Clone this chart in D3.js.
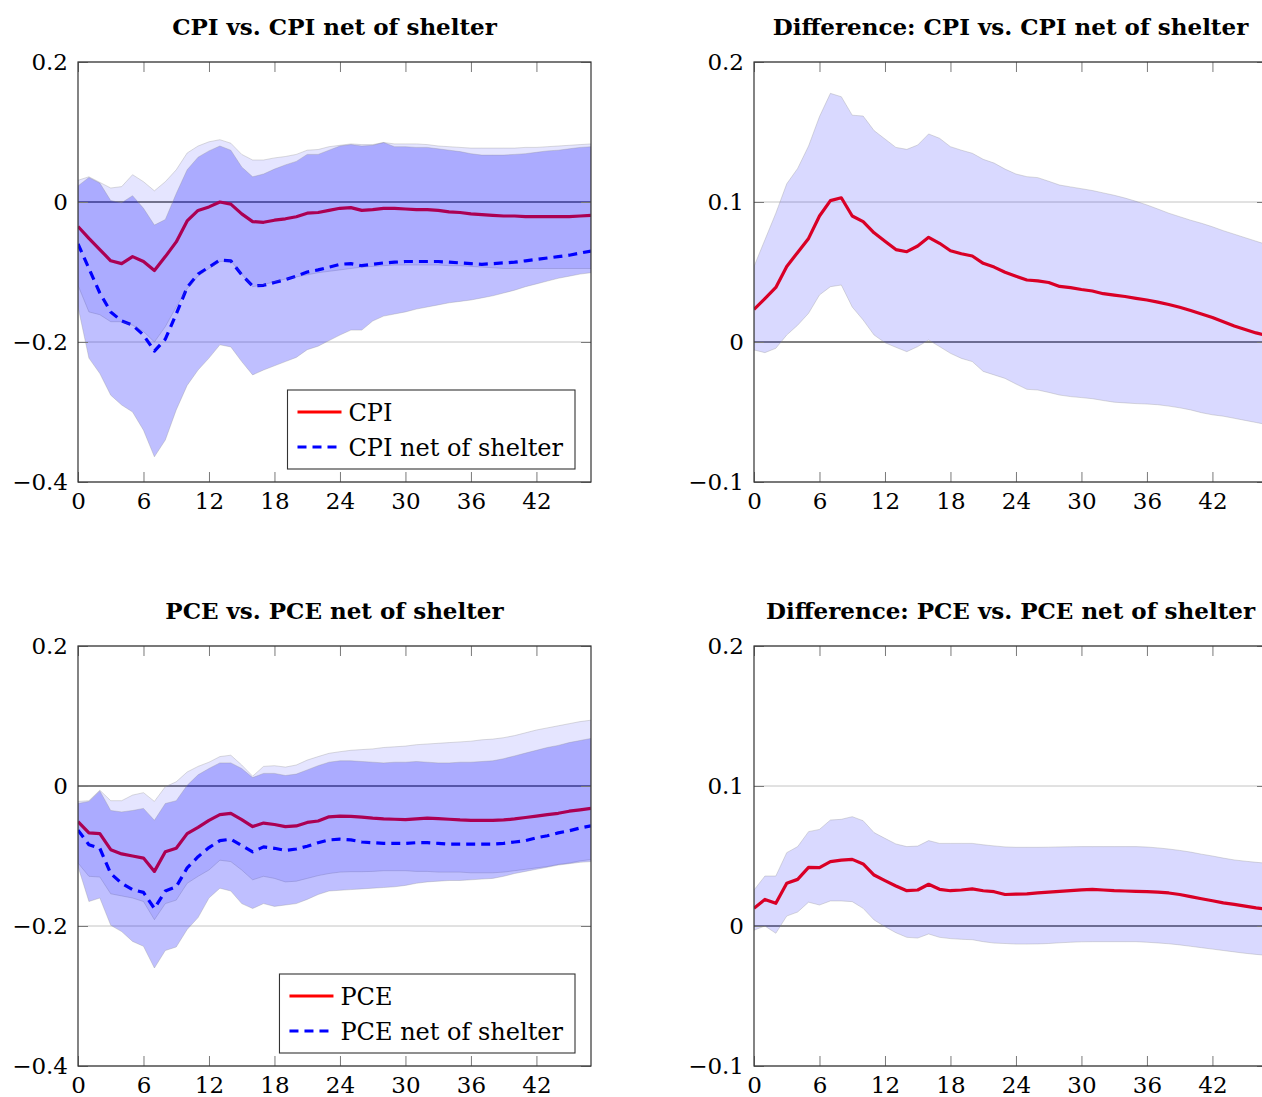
<!DOCTYPE html>
<html>
<head>
<meta charset="utf-8">
<script src="https://cdn.jsdelivr.net/npm/d3@7/dist/d3.min.js"></script>
<style>
  html, body { margin: 0; padding: 0; background: #fff; }
  svg { display: block; }
  text { font-family: "DejaVu Serif", "Liberation Serif", serif; fill: #000; }
</style>
</head>
<body>
<svg id="chart" width="1262" height="1097"></svg>
<script>
// Horizon (months after the shock)
const horizon = d3.range(0, 48);
const xTicks = [0, 6, 12, 18, 24, 30, 36, 42];

// ---- CPI vs. CPI net of shelter ----
const cpi = [-0.035,-0.052,-0.068,-0.084,-0.088,-0.078,-0.085,-0.098,-0.078,-0.057,-0.027,-0.012,-0.007,0.000,-0.003,-0.017,-0.028,-0.029,-0.026,-0.024,-0.021,-0.016,-0.015,-0.012,-0.009,-0.008,-0.012,-0.011,-0.009,-0.009,-0.010,-0.011,-0.011,-0.012,-0.014,-0.015,-0.017,-0.018,-0.019,-0.020,-0.020,-0.021,-0.021,-0.021,-0.021,-0.021,-0.020,-0.019];
const cpiLo = [-0.119,-0.157,-0.161,-0.171,-0.171,-0.176,-0.185,-0.200,-0.178,-0.150,-0.124,-0.106,-0.095,-0.085,-0.084,-0.103,-0.121,-0.118,-0.114,-0.110,-0.107,-0.104,-0.101,-0.099,-0.097,-0.095,-0.093,-0.092,-0.091,-0.090,-0.090,-0.090,-0.090,-0.090,-0.091,-0.091,-0.092,-0.093,-0.094,-0.095,-0.095,-0.095,-0.095,-0.095,-0.095,-0.095,-0.095,-0.095];
const cpiHi = [0.031,0.036,0.028,0.020,0.022,0.039,0.029,0.016,0.029,0.046,0.070,0.080,0.086,0.089,0.084,0.068,0.060,0.060,0.063,0.065,0.068,0.074,0.075,0.079,0.081,0.083,0.082,0.082,0.085,0.083,0.083,0.083,0.082,0.080,0.079,0.078,0.077,0.077,0.077,0.077,0.077,0.078,0.078,0.079,0.080,0.081,0.082,0.083];
const cpiExShelter = [-0.060,-0.095,-0.130,-0.157,-0.170,-0.176,-0.190,-0.213,-0.196,-0.160,-0.122,-0.103,-0.093,-0.083,-0.084,-0.104,-0.120,-0.119,-0.115,-0.111,-0.106,-0.100,-0.097,-0.093,-0.089,-0.088,-0.091,-0.089,-0.087,-0.086,-0.085,-0.085,-0.085,-0.085,-0.086,-0.087,-0.088,-0.089,-0.088,-0.087,-0.086,-0.084,-0.082,-0.080,-0.078,-0.076,-0.073,-0.070];
const cpiExShelterLo = [-0.150,-0.223,-0.245,-0.276,-0.290,-0.300,-0.326,-0.364,-0.340,-0.297,-0.262,-0.240,-0.223,-0.204,-0.207,-0.228,-0.247,-0.240,-0.234,-0.228,-0.222,-0.211,-0.206,-0.198,-0.190,-0.183,-0.183,-0.170,-0.163,-0.160,-0.157,-0.153,-0.150,-0.147,-0.144,-0.142,-0.140,-0.137,-0.134,-0.130,-0.126,-0.121,-0.117,-0.113,-0.109,-0.106,-0.103,-0.101];
const cpiExShelterHi = [0.023,0.035,0.027,0.002,-0.001,0.009,-0.009,-0.033,-0.025,0.012,0.046,0.064,0.073,0.080,0.074,0.050,0.036,0.040,0.047,0.053,0.058,0.068,0.068,0.074,0.080,0.082,0.080,0.081,0.085,0.079,0.079,0.078,0.078,0.076,0.074,0.072,0.069,0.067,0.067,0.067,0.068,0.069,0.071,0.073,0.074,0.076,0.078,0.079];

// ---- Difference: CPI vs. CPI net of shelter ----
const cpiDiff = [0.0233,0.031,0.039,0.054,0.064,0.074,0.090,0.101,0.103,0.090,0.086,0.078,0.072,0.066,0.0645,0.0686,0.0748,0.0705,0.0652,0.063,0.0614,0.0562,0.0535,0.0498,0.047,0.0443,0.0437,0.0425,0.0397,0.0388,0.0375,0.0364,0.0345,0.0335,0.0325,0.0312,0.0300,0.0285,0.0268,0.0248,0.0225,0.0200,0.0175,0.0145,0.0115,0.0090,0.0065,0.0045];
const cpiDiffLo = [-0.0057,-0.0076,-0.0045,0.005,0.012,0.0205,0.0336,0.0395,0.0407,0.025,0.0157,0.005,-0.0005,-0.0038,-0.0069,-0.0033,0.0014,-0.0033,-0.0081,-0.0117,-0.014,-0.021,-0.0235,-0.026,-0.030,-0.0338,-0.0343,-0.036,-0.0379,-0.039,-0.0397,-0.0405,-0.0418,-0.043,-0.0435,-0.044,-0.0443,-0.0448,-0.0458,-0.047,-0.0485,-0.0505,-0.052,-0.053,-0.0545,-0.056,-0.0575,-0.059];
const cpiDiffHi = [0.054,0.073,0.092,0.113,0.124,0.140,0.161,0.1776,0.1752,0.162,0.1614,0.151,0.145,0.139,0.1376,0.1407,0.1486,0.1455,0.1395,0.137,0.1348,0.1305,0.1278,0.1235,0.120,0.1181,0.1174,0.1148,0.1121,0.1108,0.1095,0.1082,0.1065,0.1048,0.1028,0.1005,0.0979,0.095,0.092,0.0895,0.087,0.0848,0.0823,0.0795,0.077,0.0745,0.072,0.0695];

// ---- PCE vs. PCE net of shelter ----
const pce = [-0.051,-0.067,-0.068,-0.091,-0.097,-0.100,-0.103,-0.122,-0.094,-0.089,-0.068,-0.059,-0.049,-0.041,-0.039,-0.048,-0.058,-0.053,-0.055,-0.058,-0.057,-0.052,-0.050,-0.044,-0.043,-0.0435,-0.0445,-0.046,-0.047,-0.0475,-0.048,-0.047,-0.046,-0.0465,-0.0475,-0.0485,-0.049,-0.049,-0.049,-0.0485,-0.047,-0.045,-0.043,-0.041,-0.039,-0.036,-0.034,-0.032];
const pceLo = [-0.110,-0.129,-0.130,-0.154,-0.157,-0.160,-0.165,-0.191,-0.168,-0.163,-0.139,-0.129,-0.120,-0.106,-0.108,-0.120,-0.134,-0.129,-0.132,-0.137,-0.136,-0.132,-0.128,-0.125,-0.123,-0.1224,-0.1224,-0.122,-0.121,-0.121,-0.121,-0.122,-0.122,-0.123,-0.123,-0.123,-0.124,-0.124,-0.124,-0.123,-0.121,-0.119,-0.117,-0.115,-0.112,-0.110,-0.107,-0.105];
const pceHi = [-0.022,-0.021,-0.006,-0.021,-0.021,-0.013,-0.0095,-0.022,-0.001,0.006,0.020,0.028,0.034,0.042,0.044,0.030,0.014,0.028,0.029,0.027,0.030,0.037,0.042,0.0467,0.049,0.051,0.052,0.053,0.055,0.056,0.057,0.059,0.060,0.061,0.062,0.063,0.064,0.066,0.067,0.069,0.072,0.076,0.080,0.083,0.086,0.089,0.092,0.094];
const pceExShelter = [-0.063,-0.084,-0.089,-0.125,-0.139,-0.148,-0.152,-0.175,-0.150,-0.144,-0.117,-0.101,-0.088,-0.078,-0.076,-0.085,-0.094,-0.087,-0.089,-0.092,-0.090,-0.086,-0.081,-0.077,-0.076,-0.077,-0.080,-0.081,-0.082,-0.082,-0.082,-0.081,-0.081,-0.082,-0.083,-0.083,-0.083,-0.083,-0.083,-0.082,-0.080,-0.078,-0.074,-0.071,-0.067,-0.064,-0.060,-0.057];
const pceExShelterLo = [-0.115,-0.165,-0.160,-0.199,-0.208,-0.222,-0.229,-0.260,-0.235,-0.230,-0.205,-0.188,-0.160,-0.146,-0.150,-0.168,-0.175,-0.168,-0.172,-0.170,-0.168,-0.162,-0.155,-0.150,-0.149,-0.148,-0.147,-0.146,-0.145,-0.144,-0.142,-0.139,-0.137,-0.136,-0.135,-0.135,-0.134,-0.133,-0.132,-0.129,-0.125,-0.122,-0.119,-0.116,-0.113,-0.111,-0.109,-0.108];
const pceExShelterHi = [-0.025,-0.022,-0.007,-0.035,-0.037,-0.035,-0.032,-0.049,-0.025,-0.021,0.001,0.016,0.025,0.033,0.033,0.025,0.012,0.018,0.018,0.015,0.017,0.023,0.029,0.034,0.036,0.036,0.035,0.034,0.033,0.034,0.034,0.035,0.034,0.033,0.033,0.034,0.034,0.035,0.036,0.039,0.043,0.047,0.051,0.055,0.058,0.062,0.065,0.068];

// ---- Difference: PCE vs. PCE net of shelter ----
const pceDiff = [0.0126,0.019,0.0162,0.0305,0.0333,0.0419,0.0417,0.046,0.0471,0.0476,0.0443,0.0364,0.0324,0.0286,0.0252,0.0257,0.0298,0.0262,0.0252,0.0257,0.0265,0.0252,0.0245,0.0225,0.0227,0.0230,0.0236,0.0242,0.0248,0.0253,0.0258,0.0262,0.0257,0.0252,0.025,0.0248,0.0245,0.0242,0.0236,0.0225,0.021,0.0195,0.018,0.0165,0.0155,0.0142,0.0130,0.0120];
const pceDiffLo = [-0.003,0.000,-0.0052,0.0071,0.010,0.017,0.015,0.0179,0.0179,0.0174,0.0126,0.0043,-0.0005,-0.0048,-0.0081,-0.0086,-0.0057,-0.0081,-0.009,-0.0095,-0.0098,-0.0112,-0.0122,-0.0125,-0.0129,-0.0129,-0.0128,-0.0125,-0.0120,-0.0116,-0.0113,-0.0112,-0.0112,-0.0112,-0.0112,-0.0112,-0.0116,-0.0121,-0.0127,-0.0135,-0.0145,-0.0155,-0.0165,-0.0175,-0.0185,-0.0195,-0.0203,-0.0210];
const pceDiffHi = [0.0257,0.0357,0.0357,0.0524,0.0567,0.0674,0.069,0.0757,0.0762,0.0781,0.0752,0.0667,0.0626,0.0586,0.0567,0.0571,0.061,0.059,0.059,0.059,0.059,0.058,0.0572,0.0565,0.0562,0.0562,0.0562,0.0563,0.0565,0.0566,0.0567,0.0567,0.0567,0.0567,0.0567,0.0567,0.0564,0.0558,0.055,0.054,0.0528,0.0513,0.050,0.0485,0.0472,0.0463,0.0455,0.0448];

// y-axis tick values for the two kinds of panels
const levelTicks = [-0.4, -0.2, 0, 0.2];
const diffTicks = [-0.1, 0, 0.1, 0.2];

const panels = [
  { title: "CPI vs. CPI net of shelter", left: 78, top: 62, yDomain: [-0.4, 0.2], yTicks: levelTicks,
    bands: [{ lo: cpiLo, hi: cpiHi, opacity: 0.10 }, { lo: cpiExShelterLo, hi: cpiExShelterHi, opacity: 0.25 }],
    lines: [{ values: cpi, label: "CPI", dashed: false }, { values: cpiExShelter, label: "CPI net of shelter", dashed: true }],
    legend: true },
  { title: "Difference: CPI vs. CPI net of shelter", left: 754, top: 62, yDomain: [-0.1, 0.2], yTicks: diffTicks,
    bands: [{ lo: cpiDiffLo, hi: cpiDiffHi, opacity: 0.15 }],
    lines: [{ values: cpiDiff, dashed: false }], legend: false },
  { title: "PCE vs. PCE net of shelter", left: 78, top: 646, yDomain: [-0.4, 0.2], yTicks: levelTicks,
    bands: [{ lo: pceLo, hi: pceHi, opacity: 0.10 }, { lo: pceExShelterLo, hi: pceExShelterHi, opacity: 0.25 }],
    lines: [{ values: pce, label: "PCE", dashed: false }, { values: pceExShelter, label: "PCE net of shelter", dashed: true }],
    legend: true },
  { title: "Difference: PCE vs. PCE net of shelter", left: 754, top: 646, yDomain: [-0.1, 0.2], yTicks: diffTicks,
    bands: [{ lo: pceDiffLo, hi: pceDiffHi, opacity: 0.15 }],
    lines: [{ values: pceDiff, dashed: false }], legend: false }
];

const W = 513, H = 420;
const RED = "#ff0000", BLUE = "#0000ff";
const DASH = "9,6";
const FONT = '"DejaVu Serif", "Liberation Serif", serif';
const svg = d3.select("#chart");
const fmtY = v => v === 0 ? "0" : d3.format(".1f")(v);

panels.forEach((p, i) => {
  const x = d3.scaleLinear().domain([0, 47]).range([p.left, p.left + W]);
  const y = d3.scaleLinear().domain(p.yDomain).range([p.top + H, p.top]);
  const g = svg.append("g");
  const clipId = "clip" + i;
  svg.append("clipPath").attr("id", clipId).append("rect")
    .attr("x", p.left).attr("y", p.top).attr("width", W).attr("height", H);

  // horizontal grid
  g.append("g").selectAll("line").data(p.yTicks).join("line")
    .attr("x1", p.left).attr("x2", p.left + W)
    .attr("y1", d => y(d)).attr("y2", d => y(d))
    .attr("stroke", d => d === 0 ? "#000" : "#c4c4c4")
    .attr("stroke-width", d => d === 0 ? 1.1 : 1);

  const plot = g.append("g").attr("clip-path", `url(#${clipId})`);

  // point estimates (drawn below the translucent bands)
  const line = d3.line().x((d, k) => x(horizon[k])).y(d => y(d));
  p.lines.forEach(l => {
    plot.append("path").datum(l.values)
      .attr("d", line).attr("fill", "none")
      .attr("stroke", l.dashed ? BLUE : RED)
      .attr("stroke-width", 3.2)
      .attr("stroke-linejoin", "round")
      .attr("stroke-dasharray", l.dashed ? DASH : null);
  });

  // confidence bands
  p.bands.forEach(b => {
    const area = d3.area().x(k => x(horizon[k])).y0(k => y(b.lo[k])).y1(k => y(b.hi[k]));
    plot.append("path").datum(horizon.map((_, k) => k))
      .attr("d", area).attr("fill", BLUE).attr("fill-opacity", b.opacity)
      .attr("stroke", "#8c8c8c").attr("stroke-opacity", 0.3).attr("stroke-width", 1);
  });

  // axes with inward ticks
  const tickStyle = sel => {
    sel.select(".domain").remove();
    sel.selectAll(".tick line").attr("stroke", "#7a7a7a").attr("stroke-width", 1);
    sel.selectAll(".tick text").style("font-family", FONT).style("font-size", "23px").attr("fill", "#000");
  };
  g.append("g").attr("transform", `translate(0,${p.top + H})`)
    .call(d3.axisBottom(x).tickValues(xTicks).tickSize(-10).tickPadding(11).tickFormat(d3.format("d")))
    .call(tickStyle);
  g.append("g").attr("transform", `translate(0,${p.top})`)
    .call(d3.axisTop(x).tickValues(xTicks).tickSize(-10).tickFormat(""))
    .call(tickStyle);
  g.append("g").attr("transform", `translate(${p.left},0)`)
    .call(d3.axisLeft(y).tickValues(p.yTicks).tickSize(-10).tickPadding(10).tickFormat(fmtY))
    .call(tickStyle);
  g.append("g").attr("transform", `translate(${p.left + W},0)`)
    .call(d3.axisRight(y).tickValues(p.yTicks).tickSize(-10).tickFormat(""))
    .call(tickStyle);

  // frame
  g.append("rect").attr("x", p.left).attr("y", p.top).attr("width", W).attr("height", H)
    .attr("fill", "none").attr("stroke", "#333").attr("stroke-width", 1.2);

  // title
  g.append("text").attr("x", p.left + W / 2).attr("y", p.top - 27)
    .attr("text-anchor", "middle").style("font-size", "23px").style("font-weight", "bold")
    .text(p.title);

  // legend
  if (p.legend) {
    const lg = g.append("g");
    const texts = p.lines.map((l, k) => lg.append("text")
      .attr("y", 0).style("font-size", "24px").text(l.label));
    const tw = d3.max(texts, t => t.node().getComputedTextLength());
    const boxW = 10 + 44 + 7 + tw + 12;
    const boxH = 79;
    const right = p.left + W - 16, bottom = p.top + H - 13;
    const bx = right - boxW, by = bottom - boxH;
    lg.insert("rect", "text").attr("x", bx).attr("y", by).attr("width", boxW).attr("height", boxH)
      .attr("fill", "#fff").attr("stroke", "#333").attr("stroke-width", 1.1);
    p.lines.forEach((l, k) => {
      const ly = by + 22 + k * 35;
      lg.append("line").attr("x1", bx + 10).attr("x2", bx + 54).attr("y1", ly).attr("y2", ly)
        .attr("stroke", l.dashed ? BLUE : RED).attr("stroke-width", 3.2)
        .attr("stroke-dasharray", l.dashed ? DASH : null);
      texts[k].attr("x", bx + 61).attr("y", ly + 9);
    });
  }
});
</script>
</body>
</html>
